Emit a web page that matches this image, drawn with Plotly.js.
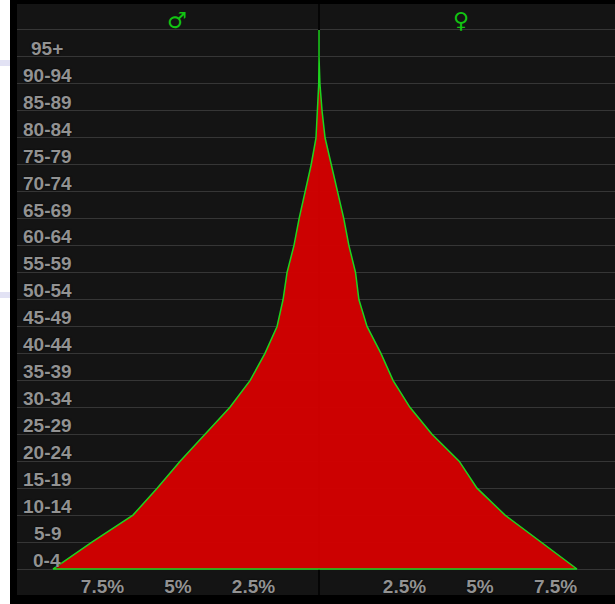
<!DOCTYPE html>
<html>
<head>
<meta charset="utf-8">
<script src="https://cdn.plot.ly/plotly-3.0.1.min.js"></script>
<style>html,body{margin:0;padding:0;background:#fff;}</style>
</head>
<body>
<div id="chart" style="width:615px;height:604px;"></div>
<script>
// Age group start ages (last entry = top of the 95+ band)
const ages = [0,5,10,15,20,25,30,35,40,45,50,55,60,65,70,75,80,85,90,95,100];
const ageLabels = ['0-4','5-9','10-14','15-19','20-24','25-29','30-34','35-39','40-44','45-49',
                   '50-54','55-59','60-64','65-69','70-74','75-79','80-84','85-89','90-94','95+'];
// Percent of population by age group
const male   = [8.81,7.52,6.16,5.36,4.60,3.77,2.95,2.28,1.79,1.39,1.19,1.06,0.83,0.66,0.46,0.26,0.10,0.05,0.01,0.0,0.0];
const female = [8.54,7.37,6.16,5.23,4.64,3.74,3.01,2.45,2.05,1.59,1.32,1.21,0.99,0.82,0.60,0.40,0.20,0.10,0.03,0.0,0.0];
const xTickVals = [-7.5,-5,-2.5,2.5,5,7.5];
const xTickText = ['7.5%','5%','2.5%','2.5%','5%','7.5%'];
const sexSymbols = ['\u2642','\u2640'];
const sexSymbolX = [-4.7, 4.7];

// Build a closed outline: left (male) side upward, right (female) side downward
const px = [], py = [];
for (let i = 0; i < ages.length; i++) { px.push(-male[i]); py.push(ages[i]); }
for (let i = ages.length - 1; i >= 0; i--) { px.push(female[i]); py.push(ages[i]); }
px.push(-male[0]); py.push(ages[0]);

const trace = {
  type: 'scatter', mode: 'lines', x: px, y: py,
  fill: 'toself', fillcolor: 'rgba(214,0,0,0.95)',
  line: {color: '#1ed41e', width: 1.5},
  hoverinfo: 'skip', showlegend: false
};

const labelFont = {family: 'Liberation Sans, Arial, sans-serif', size: 19, weight: 'bold', color: '#929292', shadow: '0px 0px 2px #000'};

const annotations = ageLabels.map((t, i) => ({
  text: t, xref: 'paper', x: 0.0502, xanchor: 'center',
  yref: 'y', y: ages[i] + 1.6, yanchor: 'middle',
  showarrow: false, font: labelFont
}));
sexSymbols.forEach((s, i) => annotations.push({
  text: s, xref: 'x', x: sexSymbolX[i], xanchor: 'center',
  yref: 'paper', y: 1, yanchor: 'top', yshift: -2,
  showarrow: false, font: {family: 'DejaVu Sans, sans-serif', size: 22, color: '#12c412'}
}));

const layout = {
  width: 615, height: 604,
  margin: {l: 17, r: 0, t: 4, b: 9, pad: 0},
  paper_bgcolor: '#000000', plot_bgcolor: '#141414',
  showlegend: false,
  xaxis: {
    range: [-10, 9.8], tickvals: xTickVals, ticktext: xTickText,
    showgrid: false, zeroline: true, zerolinecolor: '#050505', zerolinewidth: 2,
    ticks: '', ticklabelposition: 'inside', ticklabelshift: 10, ticklabelstandoff: -5,
    tickfont: labelFont, showline: false, fixedrange: true
  },
  yaxis: {
    range: [-4.82, 104.82], tick0: 0, dtick: 5, showticklabels: false,
    showgrid: true, gridcolor: '#363636', gridwidth: 1, zeroline: false,
    ticks: '', fixedrange: true
  },
  annotations: annotations,
  shapes: [
    {type: 'rect', xref: 'paper', xsizemode: 'pixel', xanchor: 0, x0: -17, x1: -7,
     yref: 'paper', y0: -0.1, y1: 1.1, fillcolor: '#ffffff', line: {width: 0}, layer: 'above'},
    {type: 'rect', xref: 'paper', xsizemode: 'pixel', xanchor: 0, x0: -17, x1: -7,
     yref: 'paper', ysizemode: 'pixel', yanchor: 1, y0: -56, y1: -62, fillcolor: '#e2e2f4', line: {width: 0}, layer: 'above'},
    {type: 'rect', xref: 'paper', xsizemode: 'pixel', xanchor: 0, x0: -17, x1: -7,
     yref: 'paper', ysizemode: 'pixel', yanchor: 1, y0: -288, y1: -294, fillcolor: '#e2e2f4', line: {width: 0}, layer: 'above'}
  ]
};

Plotly.newPlot('chart', [trace], layout, {displayModeBar: false, staticPlot: true});
</script>
</body>
</html>
